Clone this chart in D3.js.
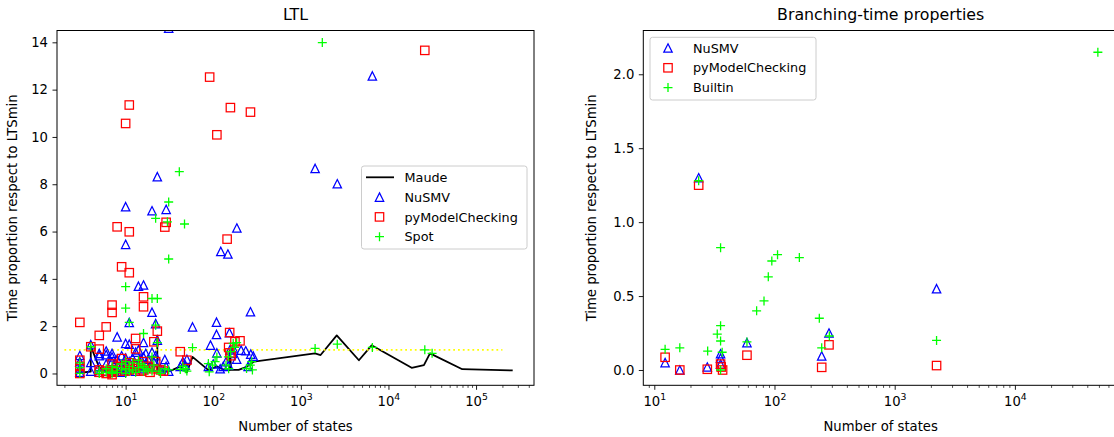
<!DOCTYPE html>
<html><head><meta charset="utf-8">
<script src="https://cdn.jsdelivr.net/npm/d3@7"></script>
<style>body{margin:0;background:#fff;} svg{display:block;font-family:"DejaVu Sans";}</style>
</head><body><svg id="chart" width="1114" height="437"></svg>
<script>
// ---------- DATA: [number of states, time proportion] ----------
const maudeLTL = [[3,0.03],[4,0.08],[4,1.15],[5,0.25],[6,0.08],[8,0.1],[10,0.12],[13,0.1],[16,0.15],[20,0.12],[23,0.1],[23,1.6],[23,0.15],[28,0.08],[33,0.12],[42,0.3],[50,0.05],[58,0.7],[88,0.14],[110,0.3],[130,0.17],[155,0.14],[155,1.0],[160,0.15],[195,0.15],[240,0.28],[290,0.5],[1450,0.85],[1680,0.78],[2570,1.61],[4600,0.56],[6430,1.19],[18400,0.24],[25400,0.35],[29800,0.85],[69600,0.18],[262000,0.13]];
const nusmvLTL = [[31,14.6],[6550,12.58],[1455,8.67],[2606,8.02],[23,8.32],[10,7.05],[20,6.88],[29,6.94],[186,6.15],[10,5.46],[122,5.16],[147,5.05],[14,3.69],[16,3.74],[20,2.59],[266,2.61],[11,2.16],[22,2.11],[58,1.97],[109,2.17],[109,1.65],[8,1.55],[10,1.27],[11,1.24],[16,1.31],[93,1.2],[4,1.22],[4,0.47],[3,0.76],[153,1.72],[208,0.99],[235,0.96],[268,0.82],[287,0.73],[28,0.59],[110,0.87],[23,1.41],
  [3,0.5],[3,0.2],[3,0.05],[4,0.1],[5,0.85],[5,0.75],[5,0.3],[5,0.05],[6,0.95],[6,0.8],[6,0.4],[6,0.1],[7,0.85],[7,0.7],[7,0.5],[7,0.2],[7,0.05],[8,0.6],[8,0.35],[8,0.1],[9,0.75],[9,0.3],[9,0.05],[10,0.65],[10,0.4],[10,0.15],[11,0.5],[11,0.2],[12,0.65],[12,0.3],[13,0.9],[13,0.4],[13,0.1],[14,1.0],[14,0.3],[15,0.6],[16,0.7],[16,0.2],[17,0.85],[17,0.4],[18,0.6],[19,0.3],[20,0.9],[21,0.5],[22,0.75],[23,0.3],[25,0.2],[29,0.3],[31,0.1],[42,0.3],[45,0.5],[48,0.35],[50,0.6],[88,0.3],[100,0.4],[120,0.2],[130,0.3],[140,0.5],[150,0.35],[155,1.0],[165,0.85],[170,1.05],[185,0.6],[250,0.3]];
const pymcLTL = [[3,2.16],[91,12.53],[11,11.35],[10,10.57],[157,11.24],[266,11.05],[110,10.09],[26000,13.66],[8,6.2],[11,5.99],[29,6.39],[28,6.19],[144,5.68],[9,4.51],[11,4.26],[7,2.89],[7,2.58],[16,3.24],[16,2.82],[6,1.97],[5,1.61],[23,1.79],[13,1.48],[4,1.13],[5,1.03],[13,1.04],[154,1.73],[202,1.38],[177,1.34],[42,0.92],[50,0.56],[3,0.56],[3,0.3],[3,0.0],[21,1.34],[9,0.63],
  [5,0.15],[5,0.05],[6,0.1],[6,0.0],[7,0.4],[7,0.15],[7,0.05],[7,-0.05],[8,0.3],[8,0.1],[9,0.2],[10,0.35],[10,0.1],[11,0.45],[11,0.15],[12,0.3],[13,0.2],[14,0.4],[15,0.1],[16,0.5],[16,0.15],[18,0.3],[19,0.05],[21,0.2],[22,0.5],[25,0.15],[27,0.1],[155,0.87],[160,0.75],[150,1.1]];
const spotLTL = [[1758,13.99],[41,8.53],[31,7.25],[22,6.56],[47,6.32],[30,6.41],[31,4.84],[10,3.67],[10,2.76],[20,3.17],[23,3.17],[11,2.16],[16,1.69],[58,1.09],[1455,1.06],[2606,1.24],[6550,1.1],[26000,1.0],[31500,0.85],[4,1.13],[22,2.04],[23,1.3],
  [3,0.0],[3,0.25],[3,0.45],[5,0.1],[5,0.0],[6,0.2],[6,0.05],[7,0.3],[7,0.1],[7,0.0],[8,0.25],[8,0.05],[9,0.4],[9,0.15],[10,0.5],[10,0.2],[10,0.0],[11,0.3],[11,0.1],[12,0.45],[12,0.15],[13,0.05],[14,0.55],[14,0.25],[15,0.4],[16,0.3],[16,0.1],[17,0.2],[18,0.15],[20,0.7],[20,0.1],[21,0.35],[24,0.1],[25,0.0],[28,0.2],[31,0.15],[42,0.17],[45,0.3],[48,0.2],[50,0.1],[88,0.42],[90,0.07],[98,0.35],[105,0.5],[110,0.7],[140,0.35],[149,0.7],[150,0.2],[158,0.92],[169,1.27],[175,1.1],[185,1.3],[240,0.21],[265,0.35],[275,0.5],[280,0.15]];
const referenceLine = [[2,1],[200000,1]];

const nusmvBT = [[12.3,0.05],[16.3,0.0],[23.4,1.3],[27.6,0.02],[35.6,0.11],[35.6,0.08],[35.6,0.04],[59,0.185],[247,0.095],[284,0.25],[2230,0.55]];
const pymcBT = [[12.3,0.086],[16.3,0.0],[23.4,1.25],[27.6,0.005],[35.6,0.04],[36,0.02],[37,0.0],[59,0.1],[247,0.018],[284,0.17],[2230,0.03]];
const builtinBT = [[12.3,0.14],[16.3,0.15],[23.4,1.28],[27.8,0.128],[33.4,0.243],[35.6,0.3],[35.6,0.196],[35.6,0.827],[36.7,0.12],[35.6,0.0],[59,0.19],[71,0.4],[81.8,0.467],[88.8,0.63],[95,0.737],[106,0.78],[161,0.76],[236,0.35],[247,0.15],[286,0.23],[2230,0.2],[49000,2.149]];

const ltlYTicks = [0,2,4,6,8,10,12,14];
const btYTicks = [0.0,0.5,1.0,1.5,2.0];
const ltlXTicks = [1e1,1e2,1e3,1e4,1e5];
const btXTicks = [1e1,1e2,1e3,1e4];
const yLabel = "Time proportion respect to LTSmin";
const xLabel = "Number of states";

// ---------- DRAW ----------
const svg = d3.select("#chart");
const FS = 13.2, LFS = 12.8, TFS = 15.8;
const COL = {blue:"#0000ff", red:"#ff0000", green:"#00ff00", yellow:"#ffff00"};

function marker(g, type, x, y, color){
  if(type==="tri"){
    g.append("path").attr("d",`M${x},${y-4.2}L${x+4.2},${y+4.2}L${x-4.2},${y+4.2}Z`)
     .attr("fill","none").attr("stroke",color).attr("stroke-width",1.25);
  } else if(type==="sq"){
    g.append("rect").attr("x",x-4.2).attr("y",y-4.2).attr("width",8.4).attr("height",8.4)
     .attr("fill","none").attr("stroke",color).attr("stroke-width",1.25);
  } else if(type==="plus"){
    g.append("path").attr("d",`M${x-4.5},${y}H${x+4.5}M${x},${y-4.5}V${y+4.5}`)
     .attr("fill","none").attr("stroke",color).attr("stroke-width",1.3);
  }
}

function panel(cfg){
  const {x0,x1,y0,y1} = cfg;
  const x = d3.scaleLog().domain(cfg.xDomain).range([x0,x1]);
  const y = d3.scaleLinear().domain(cfg.yDomain).range([y1,y0]);
  const g = svg.append("g");
  const clipId = "clip"+cfg.id;
  svg.append("clipPath").attr("id",clipId).append("rect")
    .attr("x",x0).attr("y",y0).attr("width",x1-x0).attr("height",y1-y0);
  const plot = g.append("g").attr("clip-path",`url(#${clipId})`);

  if(cfg.line){
    plot.append("path").datum(cfg.line)
      .attr("d", d3.line().x(d=>x(d[0])).y(d=>y(d[1])))
      .attr("fill","none").attr("stroke","#000").attr("stroke-width",1.8).attr("stroke-linejoin","round");
  }
  if(cfg.refLine){
    plot.append("path").datum(cfg.refLine)
      .attr("d", d3.line().x(d=>x(d[0])).y(d=>y(d[1])))
      .attr("fill","none").attr("stroke",COL.yellow).attr("stroke-width",1.8).attr("stroke-dasharray","1.8,3");
  }
  cfg.series.forEach(s=>{
    s.data.forEach(d=>marker(plot, s.type, x(d[0]), y(d[1]), s.color));
  });

  // axes
  const minor = [];
  for(let e=-1;e<7;e++) for(let m=2;m<10;m++){ const v=m*Math.pow(10,e); if(v>=cfg.xDomain[0]&&v<=cfg.xDomain[1]) minor.push(v); }
  const xMinor = g.append("g").attr("transform",`translate(0,${y1})`)
    .call(d3.axisBottom(x).tickValues(minor).tickSize(2.6).tickFormat(()=>""));
  xMinor.select(".domain").remove();
  xMinor.selectAll("line").attr("stroke-width",0.7);
  const xAx = g.append("g").attr("transform",`translate(0,${y1})`)
    .call(d3.axisBottom(x).tickValues(cfg.xTicks).tickSize(4.5).tickPadding(4.5).tickFormat(()=>""));
  xAx.select(".domain").remove();
  xAx.selectAll("line").attr("stroke-width",0.9);
  xAx.selectAll(".tick text").each(function(d){
    const t = d3.select(this);
    t.attr("y",null).attr("dy",null).attr("transform","translate(0,20.5)")
     .attr("font-size",FS).attr("font-family","DejaVu Sans").attr("fill","#000");
    t.append("tspan").text("10");
    t.append("tspan").attr("dy",-6).attr("font-size",9.3).text(Math.round(Math.log10(d)));
  });
  const yAx = g.append("g").attr("transform",`translate(${x0},0)`)
    .call(d3.axisLeft(y).tickValues(cfg.yTicks).tickSize(4.5).tickPadding(4.5).tickFormat(cfg.yFmt));
  yAx.select(".domain").remove();
  yAx.selectAll("line").attr("stroke-width",0.9);
  yAx.selectAll("text").attr("font-size",FS).attr("font-family","DejaVu Sans").attr("fill","#000");

  g.append("rect").attr("x",x0).attr("y",y0).attr("width",x1-x0).attr("height",y1-y0)
    .attr("fill","none").attr("stroke","#000").attr("stroke-width",1);

  // labels
  g.append("text").attr("x",(x0+x1)/2).attr("y",19.5).attr("text-anchor","middle")
    .attr("font-size",TFS).text(cfg.title);
  g.append("text").attr("x",(x0+x1)/2).attr("y",431).attr("text-anchor","middle")
    .attr("font-size",FS).text(xLabel);
  g.append("text").attr("transform",`translate(${cfg.yLabelX},${(y0+y1)/2}) rotate(-90)`)
    .attr("text-anchor","middle").attr("font-size",FS).text(yLabel);

  // legend
  const L = cfg.legend;
  const lg = g.append("g");
  lg.append("rect").attr("x",L.x).attr("y",L.y).attr("width",L.w).attr("height",L.h).attr("rx",2.5)
    .attr("fill","#fff").attr("fill-opacity",0.8).attr("stroke","#cccccc").attr("stroke-width",1);
  L.items.forEach((it,i)=>{
    const yy = L.y + L.first + i*L.step;
    const mx = L.x + 18;
    if(it.type==="line"){
      lg.append("line").attr("x1",L.x+4.5).attr("x2",L.x+32.5).attr("y1",yy).attr("y2",yy)
        .attr("stroke","#000").attr("stroke-width",1.8);
    } else marker(lg, it.type, mx, yy, it.color);
    lg.append("text").attr("x",L.x+43).attr("y",yy+4.6).attr("font-size",LFS).text(it.label);
  });
}

panel({
  id:"L", x0:57, x1:534, y0:30.5, y1:385.3,
  xDomain:[Math.pow(10,0.2165), Math.pow(10,5.6615)], yDomain:[-0.5,14.5],
  xTicks:ltlXTicks, yTicks:ltlYTicks, yFmt:d=>String(d),
  title:"LTL", yLabelX:17,
  line:maudeLTL, refLine:referenceLine,
  series:[{data:nusmvLTL,type:"tri",color:COL.blue},{data:pymcLTL,type:"sq",color:COL.red},{data:spotLTL,type:"plus",color:COL.green}],
  legend:{x:361.5,y:166,w:165.5,h:83,first:11.3,step:19.8,items:[
    {type:"line",label:"Maude"},{type:"tri",color:COL.blue,label:"NuSMV"},
    {type:"sq",color:COL.red,label:"pyModelChecking"},{type:"plus",color:COL.green,label:"Spot"}]}
});
panel({
  id:"R", x0:643.3, x1:1118, y0:30.5, y1:385.3,
  xDomain:[Math.pow(10,0.9085), Math.pow(10,0.9085+(1118-643.3)/120.2)], yDomain:[-0.1035,2.296],
  xTicks:btXTicks, yTicks:btYTicks, yFmt:d3.format(".1f"),
  title:"Branching-time properties", yLabelX:596,
  series:[{data:nusmvBT,type:"tri",color:COL.blue},{data:pymcBT,type:"sq",color:COL.red},{data:builtinBT,type:"plus",color:COL.green}],
  legend:{x:650,y:37.3,w:166,h:62.7,first:10.7,step:19.8,items:[
    {type:"tri",color:COL.blue,label:"NuSMV"},{type:"sq",color:COL.red,label:"pyModelChecking"},
    {type:"plus",color:COL.green,label:"Builtin"}]}
});
</script></body></html>
